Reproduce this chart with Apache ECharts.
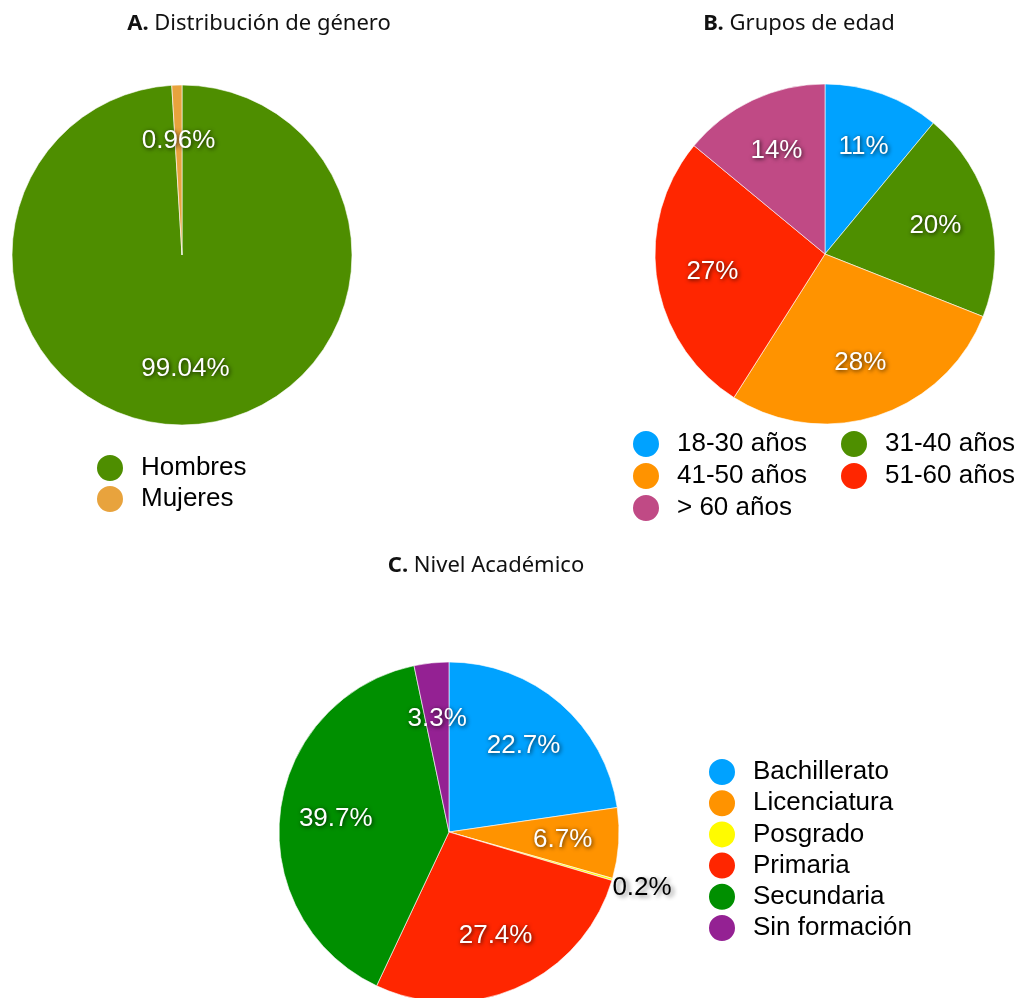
<!DOCTYPE html>
<html>
<head>
<meta charset="utf-8">
<title>Perfil de participantes</title>
<script src="https://cdn.jsdelivr.net/npm/echarts@6/dist/echarts.min.js"></script>
<style>
  html, body { margin: 0; padding: 0; background: #fff; }
  #chart { width: 1021px; height: 998px; }
</style>
</head>
<body>
<div id="chart"></div>
<script>
// A. Distribución de género
const generoNombres = ['Hombres', 'Mujeres'];
const generoValores = [99.04, 0.96];
const generoColores = ['#4E8E00', '#E8A33D'];

// B. Grupos de edad
const edadNombres = ['18-30 años', '31-40 años', '41-50 años', '51-60 años', '> 60 años'];
const edadValores = [11, 20, 28, 27, 14];
const edadColores = ['#00A2FF', '#4E8F00', '#FF9300', '#FF2600', '#C04A85'];

// C. Nivel Académico
const nivelNombres = ['Bachillerato', 'Licenciatura', 'Posgrado', 'Primaria', 'Secundaria', 'Sin formación'];
const nivelValores = [22.7, 6.7, 0.2, 27.4, 39.7, 3.3];
const nivelColores = ['#00A2FF', '#FF9300', '#FFFB00', '#FF2600', '#008F00', '#942193'];

// small slices whose percentage is printed outside the pie, in black
const nivelFuera = ['Posgrado'];

const chart = echarts.init(document.getElementById('chart'));

const R = 170;
const labelFont = 'Liberation Sans, Arial, Helvetica, sans-serif';
const titleFont = 'Noto Sans, Open Sans, sans-serif';

const whiteLabel = {
  color: '#fff',
  fontFamily: labelFont,
  fontSize: 26,
  padding: [6, 0, 0, 0],
  textShadowColor: 'rgba(0,0,0,0.8)',
  textShadowBlur: 4,
  textShadowOffsetX: 1,
  textShadowOffsetY: 1
};

function pieSeries(center, names, values, colors) {
  return {
    type: 'pie',
    center: center,
    radius: [0, R],
    startAngle: 90,
    clockwise: true,
    silent: true,
    label: { show: false },
    labelLine: { show: false },
    emphasis: { disabled: true },
    itemStyle: { borderColor: '#fff', borderWidth: 0.6 },
    data: names.map((n, i) => ({ name: n, value: values[i], itemStyle: { color: colors[i] } }))
  };
}

// invisible ring used only to place the percentage labels
function labelRing(center, names, values, decimals, inner, outer, showFn, style) {
  return {
    type: 'pie',
    center: center,
    radius: [inner, outer],
    startAngle: 90,
    clockwise: true,
    silent: true,
    avoidLabelOverlap: false,
    emphasis: { disabled: true },
    itemStyle: { color: 'transparent', borderWidth: 0 },
    labelLine: { show: false },
    label: Object.assign({
      position: 'inside',
      formatter: p => p.value.toFixed(decimals) + '%'
    }, style),
    data: values.map((v, i) => ({
      value: v,
      label: { show: showFn(names[i]) }
    }))
  };
}

const cA = [182, 255], cB = [825, 254], cC = [449, 832];
const r0 = 52;

const legendBase = {
  orient: 'vertical',
  icon: 'circle',
  itemWidth: 52,
  itemHeight: 28,
  selectedMode: false,
  textStyle: { fontFamily: labelFont, fontSize: 26, lineHeight: 28, color: '#000' }
};

chart.setOption({
  backgroundColor: '#fff',
  animation: false,
  title: [
    { text: '{b|A.} Distribución de género', left: 254, top: 8, textAlign: 'center' },
    { text: '{b|B.} Grupos de edad', left: 794, top: 8, textAlign: 'center' },
    { text: '{b|C.} Nivel Académico', left: 481, top: 550, textAlign: 'center' }
  ].map(t => Object.assign(t, {
    textStyle: {
      fontFamily: titleFont, fontSize: 22, fontWeight: 'normal', color: '#111',
      rich: { b: { fontFamily: titleFont, fontSize: 22, fontWeight: 'bold', color: '#111' } }
    }
  })),
  legend: [
    Object.assign({}, legendBase, { left: 90, top: 448, itemGap: 1, data: generoNombres }),
    Object.assign({}, legendBase, { left: 626, top: 424, itemGap: 2, data: [edadNombres[0], edadNombres[2], edadNombres[4]] }),
    Object.assign({}, legendBase, { left: 834, top: 424, itemGap: 2, data: [edadNombres[1], edadNombres[3]] }),
    Object.assign({}, legendBase, { left: 702, top: 752, itemGap: 1.2, data: nivelNombres })
  ],
  series: [
    pieSeries(cA, generoNombres, generoValores, generoColores),
    pieSeries(cB, edadNombres, edadValores, edadColores),
    pieSeries(cC, nivelNombres, nivelValores, nivelColores),
    labelRing(cA, generoNombres, generoValores, 2, r0, R, () => true, whiteLabel),
    labelRing(cB, edadNombres, edadValores, 0, r0, R, () => true, whiteLabel),
    labelRing(cC, nivelNombres, nivelValores, 1, r0, R, n => nivelFuera.indexOf(n) < 0, whiteLabel),
    labelRing(cC, nivelNombres, nivelValores, 1, 180, 216, n => nivelFuera.indexOf(n) >= 0, {
      color: '#000',
      fontFamily: labelFont,
      fontSize: 26,
      padding: [4, 0, 0, 0],
      textShadowColor: 'rgba(0,0,0,0.45)',
      textShadowBlur: 4,
      textShadowOffsetX: 3,
      textShadowOffsetY: 2
    })
  ]
});
</script>
</body>
</html>
